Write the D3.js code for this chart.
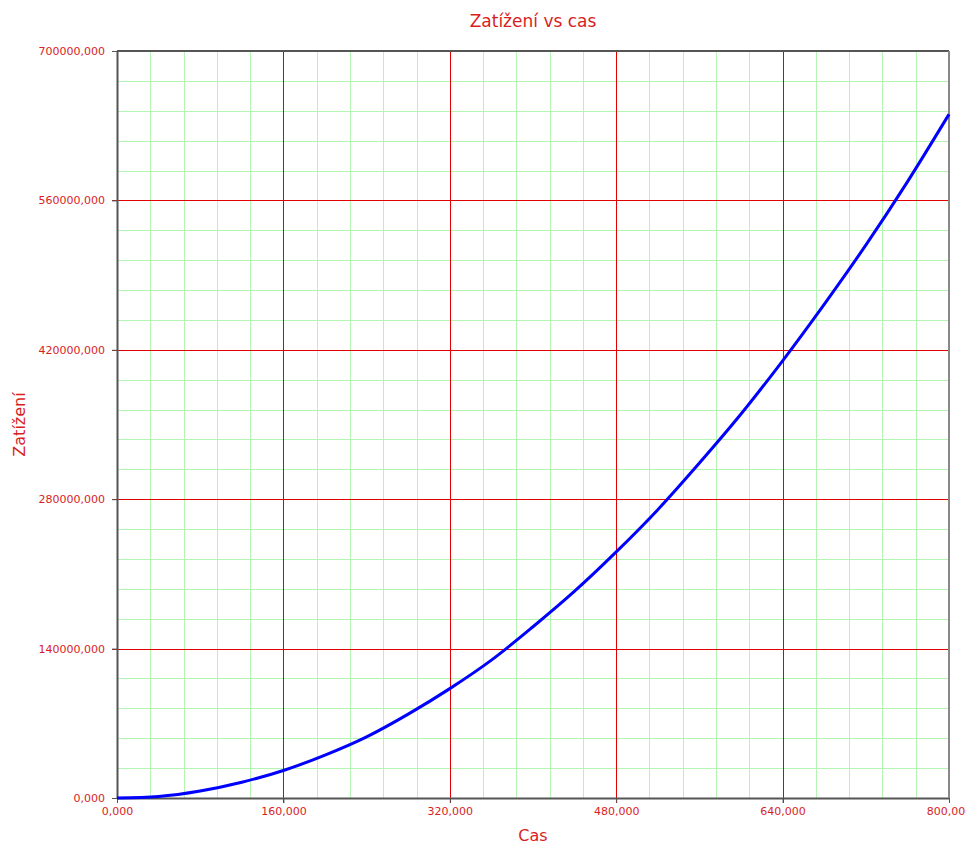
<!DOCTYPE html>
<html>
<head>
<meta charset="utf-8">
<script src="https://cdn.jsdelivr.net/npm/d3@7"></script>
<style>
body { margin: 0; background: #fff; }
text { font-family: Tahoma, "DejaVu Sans", sans-serif; }
</style>
</head>
<body>
<script>
// Zatížení vs cas
var casValues = [0, 40, 80, 120, 160, 200, 240, 280, 320, 360,
    400, 440, 480, 520, 560, 600, 640, 680, 720, 760, 800];
var zatizeniValues = [0, 1500, 6600, 14800, 25800, 40200, 57300, 78600, 102500, 129200,
    160500, 193800, 230600, 270200, 313900, 359800, 409700, 462600, 518100, 577400, 640700];
var xTicks = [0, 160, 320, 480, 640, 800];
var yTicks = [0, 140000, 280000, 420000, 560000, 700000];

var width = 966, height = 847;
var margin = {top: 51, right: 17, bottom: 49, left: 117};
var w = width - margin.left - margin.right,
    h = height - margin.top - margin.bottom;

var red = "#d81e1e";
var fmt = d3.formatLocale({decimal: ",", thousands: "", grouping: [3], currency: ["", ""]}).format(".3f");

var svg = d3.select("body").append("svg")
    .attr("width", width)
    .attr("height", height);

var g = svg.append("g")
    .attr("transform", "translate(" + margin.left + "," + margin.top + ")");

var x = d3.scaleLinear().domain([0, 800]).range([0, w]);
var y = d3.scaleLinear().domain([0, 700000]).range([h, 0]);

// minor grid
var xMinor = d3.range(0, 801, 32).filter(function (v) { return v % 160 !== 0; });
var yMinor = d3.range(0, 700001, 28000).filter(function (v) { return v % 140000 !== 0; });

g.selectAll(".xminor").data(xMinor).enter().append("line")
    .attr("x1", function (d) { return Math.round(x(d)) + 0.5; })
    .attr("x2", function (d) { return Math.round(x(d)) + 0.5; })
    .attr("y1", 0).attr("y2", h)
    .attr("stroke", "#b4f5b4").attr("stroke-width", 1);

g.selectAll(".yminor").data(yMinor).enter().append("line")
    .attr("y1", function (d) { return Math.round(y(d)) + 0.5; })
    .attr("y2", function (d) { return Math.round(y(d)) + 0.5; })
    .attr("x1", 0).attr("x2", w)
    .attr("stroke", "#b4f5b4").attr("stroke-width", 1);

// major grid
g.selectAll(".xmajor").data(xTicks.slice(1, -1)).enter().append("line")
    .attr("x1", function (d) { return Math.round(x(d)) + 0.5; })
    .attr("x2", function (d) { return Math.round(x(d)) + 0.5; })
    .attr("y1", 0).attr("y2", h + 5)
    .attr("stroke", "#e00000").attr("stroke-width", 1)
    .attr("shape-rendering", "crispEdges");

g.selectAll(".ymajor").data(yTicks.slice(1, -1)).enter().append("line")
    .attr("y1", function (d) { return Math.round(y(d)) + 0.5; })
    .attr("y2", function (d) { return Math.round(y(d)) + 0.5; })
    .attr("x1", -5).attr("x2", w)
    .attr("stroke", "#e00000").attr("stroke-width", 1)
    .attr("shape-rendering", "crispEdges");

// axes
var xAxis = g.append("g")
    .attr("transform", "translate(0," + h + ")")
    .call(d3.axisBottom(x).tickValues(xTicks).tickFormat(fmt).tickSize(5).tickPadding(4).tickSizeOuter(0));
var yAxis = g.append("g")
    .call(d3.axisLeft(y).tickValues(yTicks).tickFormat(fmt).tickSize(5).tickPadding(7).tickSizeOuter(0));

[xAxis, yAxis].forEach(function (a) {
    a.select(".domain").attr("stroke", "#555").attr("stroke-width", 2);
    a.selectAll(".tick line").attr("stroke", "#555");
    a.selectAll(".tick text").attr("fill", red).style("font-size", "11px");
});

// top and right border
g.append("line").attr("x1", 0).attr("x2", w).attr("y1", 0).attr("y2", 0)
    .attr("stroke", "#555").attr("stroke-width", 2);
g.append("line").attr("x1", w).attr("x2", w).attr("y1", 0).attr("y2", h)
    .attr("stroke", "#888").attr("stroke-width", 2);

// curve
var line = d3.line()
    .x(function (d, i) { return x(casValues[i]); })
    .y(function (d) { return y(d); })
    .curve(d3.curveMonotoneX);

g.append("path")
    .datum(zatizeniValues)
    .attr("fill", "none")
    .attr("stroke", "#0000ff")
    .attr("stroke-width", 3)
    .attr("d", line);

// titles
svg.append("text")
    .attr("x", margin.left + w / 2).attr("y", 27)
    .attr("text-anchor", "middle")
    .attr("fill", red).style("font-size", "17px")
    .text("Zatížení vs cas");

svg.append("text")
    .attr("x", margin.left + w / 2).attr("y", 841)
    .attr("text-anchor", "middle")
    .attr("fill", red).style("font-size", "16px")
    .text("Cas");

svg.append("text")
    .attr("transform", "translate(25," + (margin.top + h / 2) + ") rotate(-90)")
    .attr("text-anchor", "middle")
    .attr("fill", red).style("font-size", "16px")
    .text("Zatížení");
</script>
</body>
</html>
